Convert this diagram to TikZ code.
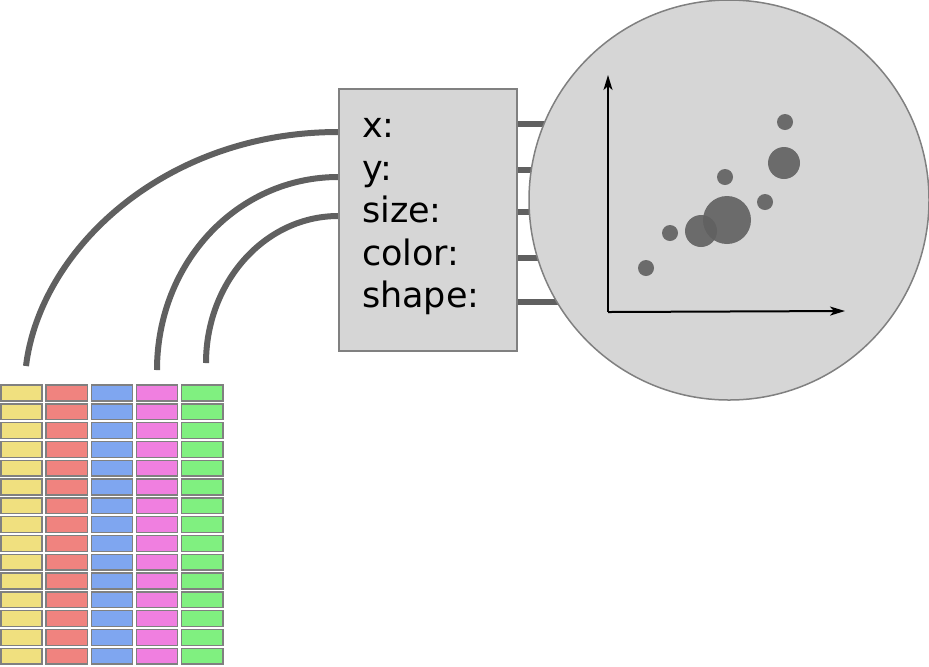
\documentclass[tikz,border=0pt]{standalone}
\usepackage{fontspec}
\setmainfont{DejaVu Sans}
\usepackage{xcolor}
\usepackage{tikz}
\usetikzlibrary{arrows.meta,backgrounds}
\definecolor{PanelGray}{HTML}{D6D6D6}
\definecolor{EdgeGray}{HTML}{808080}
\definecolor{WireGray}{HTML}{606060}
\definecolor{ColYellow}{HTML}{F0E07F}
\definecolor{ColRed}{HTML}{F0837F}
\definecolor{ColBlue}{HTML}{7FA6F0}
\definecolor{ColPink}{HTML}{F07FE0}
\definecolor{ColGreen}{HTML}{80F080}

\begin{document}
\begin{tikzpicture}[
  x=0.5pt, y=-0.5pt,
  panel/.style={
    draw=EdgeGray,
    line width=0.75pt,
    fill=PanelGray,
    inner sep=0pt
  },
  wire/.style={draw=WireGray,line width=3pt},
  cell/.style={
    draw=EdgeGray,
    line width=0.75pt,
    fill=#1,
    minimum width=20.6pt,
    minimum height=7.9pt,
    inner sep=0pt
  },
  dot/.style={fill=WireGray,fill opacity=0.9},
  axis/.style={-{Stealth[length=7.5pt,width=4.5pt,inset=2pt]},line width=1pt}
]
  \useasboundingbox (0,0) rectangle (929,666);

  % data table
  \foreach \r in {0,...,14}
    \foreach [count=\i from 0] \col in {ColYellow,ColRed,ColBlue,ColPink,ColGreen}
      \node[cell=\col] (cell-\i-\r) at ({21.5+45.2*\i},{393+18.8*\r}) {};

  % mapping box and plot
  \node[panel,minimum width=89pt,minimum height=131pt] (aes) at (428,220) {};
  \node[anchor=west,align=left,font=\fontsize{17.5}{21.25}\selectfont] (fields) at (355,217) {
    x:\\
    y:\\
    size:\\
    color:\\
    shape:
  };
  \node[panel,circle,minimum size=200pt] (plot) at (729,200) {};

  \coordinate (end-x) at (26,366);
  \coordinate (end-y) at (157,370);
  \coordinate (end-size) at (206,363);

  \begin{scope}[on background layer]
    \draw[wire] (aes.west |- 0,132) .. controls (164,132) and (40,250) .. (end-x);
    \draw[wire] (aes.west |- 0,177) .. controls (237,177) and (157,263) .. (end-y);
    \draw[wire] (aes.west |- 0,216) .. controls (265,216) and (206,282) .. (end-size);
    \foreach \y in {124,170,212,258,302}
      \draw[wire] (aes.east |- 0,\y) -- (plot.center |- 0,\y);
  \end{scope}

  % scatter plot
  \coordinate (origin) at (608,312);
  \coordinate (ytip) at (608,75);
  \coordinate (xtip) at (845,311);
  \draw[axis] (origin) -- (ytip);
  \draw[axis] (origin) -- (xtip);

  \fill[dot] (785,122) circle[radius=4pt];
  \fill[dot] (784,163) circle[radius=8pt];
  \fill[dot] (725,177) circle[radius=4pt];
  \fill[dot] (765,202) circle[radius=4pt];
  \fill[dot] (727,220) circle[radius=12pt];
  \fill[dot] (701,231) circle[radius=8pt];
  \fill[dot] (670,233) circle[radius=4pt];
  \fill[dot] (646,268) circle[radius=4pt];
\end{tikzpicture}
\end{document}
